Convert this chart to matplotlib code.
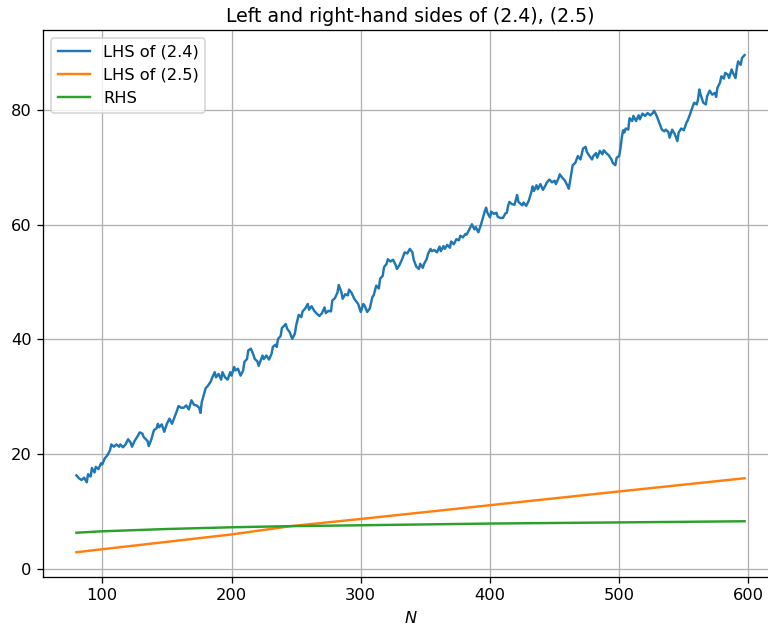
import matplotlib.pyplot as plt
import numpy as np

# LHS of (2.4)
n_lhs24 = [
    80, 82, 84, 86, 88, 89, 91, 92, 94, 95, 97, 99, 100, 102, 104, 106, 107,
    109, 111, 113, 114, 116, 118, 120, 122, 123, 125, 127, 129, 131, 132, 135,
    136, 138, 140, 142, 143, 144, 146, 148, 150, 152, 154, 156, 158, 159, 161,
    163, 165, 167, 169, 171, 173, 175, 176, 177, 179, 180, 182, 184, 185, 187,
    188, 190, 192, 193, 195, 197, 199, 200, 202, 203, 205, 207, 209, 210, 212,
    213, 215, 217, 218, 220, 221, 224, 225, 227, 229, 231, 232, 234, 235, 236,
    238, 239, 242, 243, 245, 247, 249, 250, 252, 254, 255, 257, 259, 260, 262,
    264, 266, 268, 270, 272, 273, 275, 277, 278, 280, 282, 283, 285, 286, 288,
    290, 291, 293, 295, 296, 298, 300, 302, 303, 305, 307, 309, 310, 312, 314,
    315, 317, 318, 320, 321, 323, 325, 327, 328, 330, 332, 334, 336, 338, 340,
    341, 343, 345, 346, 348, 349, 351, 352, 354, 355, 357, 359, 361, 362, 364,
    365, 367, 369, 370, 372, 374, 376, 377, 379, 381, 382, 384, 386, 388, 389,
    391, 393, 394, 396, 397, 398, 400, 401, 403, 405, 406, 408, 410, 412, 413,
    414, 415, 417, 419, 421, 422, 425, 426, 428, 430, 432, 433, 434, 436, 437,
    439, 441, 443, 444, 446, 448, 450, 451, 453, 454, 456, 458, 460, 461, 463,
    464, 466, 468, 470, 471, 472, 474, 475, 477, 479, 480, 482, 483, 485, 487,
    488, 490, 492, 494, 495, 497, 498, 500, 501, 502, 503, 504, 505, 507, 508,
    510, 511, 513, 515, 516, 518, 520, 522, 524, 526, 527, 529, 531, 533, 535,
    536, 538, 539, 541, 543, 545, 546, 548, 550, 552, 553, 555, 556, 558, 560,
    561, 562, 563, 565, 567, 568, 570, 572, 574, 575, 576, 578, 579, 581, 582,
    584, 585, 587, 588, 590, 591, 592, 594, 595, 597,
]
lhs24 = [
    16.3, 15.8, 15.5, 15.9, 15.1, 16.5, 16.1, 17.6, 16.8, 17.8, 17.4, 18.4,
    18.2, 19.3, 19.8, 20.7, 21.7, 21.3, 21.7, 21.3, 21.7, 21.2, 21.7, 22.6,
    22.0, 21.3, 22.3, 23.0, 23.8, 23.6, 23.0, 22.3, 21.4, 22.6, 24.2, 24.5,
    25.3, 24.7, 25.2, 23.9, 25.3, 26.2, 25.3, 26.5, 27.7, 28.4, 28.1, 28.1,
    28.5, 27.8, 29.4, 28.6, 28.5, 28.1, 27.2, 29.1, 30.7, 31.5, 32.0, 32.7,
    33.3, 34.3, 33.4, 34.0, 33.0, 34.3, 33.4, 33.0, 34.3, 33.7, 35.2, 34.6,
    34.9, 33.7, 34.6, 36.1, 36.6, 38.1, 38.4, 37.3, 36.6, 36.2, 35.4, 37.2,
    36.6, 37.2, 36.5, 37.5, 38.7, 39.1, 38.7, 40.1, 40.6, 42.0, 42.7, 41.9,
    41.3, 40.1, 41.0, 42.4, 44.3, 43.9, 44.9, 45.4, 46.2, 45.2, 45.8, 45.0,
    44.5, 44.1, 44.6, 45.6, 44.6, 45.0, 44.9, 46.8, 47.2, 48.2, 49.5, 48.3,
    47.1, 47.9, 47.7, 48.7, 48.1, 47.1, 46.8, 46.2, 44.8, 46.2, 45.9, 44.8,
    45.4, 47.4, 47.7, 49.4, 48.9, 50.6, 51.1, 52.6, 53.2, 54.0, 53.6, 53.9,
    53.0, 52.3, 53.0, 54.0, 55.2, 55.0, 55.8, 55.2, 53.9, 52.7, 52.3, 53.2,
    52.5, 53.2, 54.0, 54.9, 55.8, 55.4, 55.6, 55.2, 56.2, 55.4, 56.3, 55.8,
    56.5, 56.0, 57.1, 56.6, 57.5, 57.3, 58.1, 57.8, 58.4, 58.3, 59.2, 60.1,
    59.2, 59.6, 58.7, 60.0, 60.8, 62.4, 63.0, 62.1, 61.3, 62.3, 61.9, 62.1,
    61.4, 61.2, 61.2, 62.0, 62.1, 63.3, 64.0, 63.6, 63.5, 65.2, 64.0, 63.4,
    63.9, 63.3, 64.2, 65.7, 66.7, 65.9, 66.9, 66.2, 67.1, 66.1, 66.9, 67.4,
    67.9, 67.4, 67.7, 67.1, 68.1, 68.8, 68.2, 67.7, 66.8, 66.3, 69.1, 70.4,
    70.8, 72.0, 71.4, 72.3, 73.3, 73.6, 72.7, 72.0, 71.4, 72.0, 72.5, 71.7,
    72.9, 72.3, 73.0, 72.5, 72.1, 71.4, 70.8, 70.4, 71.7, 72.0, 73.4, 75.2,
    76.5, 76.1, 76.8, 76.6, 78.6, 78.1, 79.0, 78.1, 79.1, 78.4, 79.4, 79.0,
    79.5, 79.1, 79.5, 79.9, 79.0, 77.8, 76.6, 76.3, 76.6, 76.2, 75.2, 76.6,
    75.8, 74.6, 76.1, 76.8, 76.5, 77.8, 78.2, 79.4, 80.1, 81.3, 81.0, 81.9,
    83.6, 82.7, 81.3, 81.0, 82.4, 83.4, 82.7, 83.0, 82.3, 83.9, 84.8, 85.9,
    85.5, 86.5, 86.2, 85.6, 87.1, 86.5, 85.6, 87.3, 88.5, 87.9, 89.1, 89.6,
]

# LHS of (2.5) and RHS
n_lhs25 = [80, 200, 246, 300, 400, 500, 597]
lhs25 = [2.9, 6.0, 7.45, 8.7, 11.1, 13.5, 15.8]

n_rhs = [80, 100, 150, 200, 246, 300, 400, 500, 597]
rhs = [6.3, 6.55, 6.95, 7.25, 7.45, 7.6, 7.9, 8.1, 8.3]

# rendered a bit larger than the default, like the reference
fig = plt.figure(figsize=(768 / 117, 630 / 117), dpi=117)
ax = fig.add_axes([0.056, 0.084, 0.957, 0.868])

ax.plot(n_lhs24, lhs24, label='LHS of (2.4)')
ax.plot(n_lhs25, lhs25, label='LHS of (2.5)')
ax.plot(n_rhs, rhs, label='RHS')

ax.set_xticks(np.arange(100, 601, 100))
ax.set_yticks(np.arange(0, 81, 20))
ax.set_xlabel('$N$')
ax.set_title('Left and right-hand sides of (2.4), (2.5)', fontsize=11.6, pad=5)
ax.legend(loc='upper left')
ax.grid(True)

fig.savefig('out.png', dpi=117)
